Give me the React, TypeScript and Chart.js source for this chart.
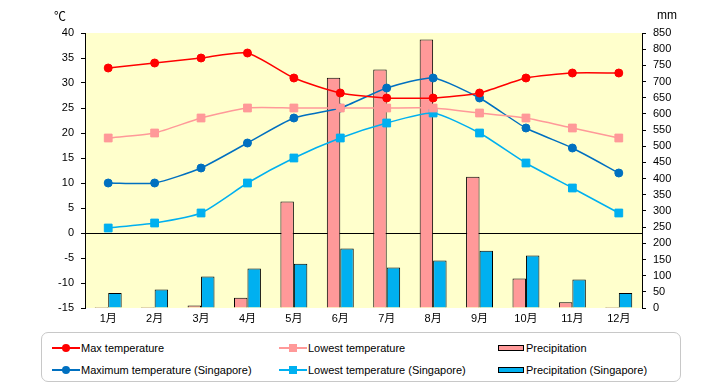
import React, { useEffect, useRef } from "react";
import { Chart, registerables } from "chart.js";

Chart.register(...registerables);

const months = ["1月", "2月", "3月", "4月", "5月", "6月", "7月", "8月", "9月", "10月", "11月", "12月"];
const maxTemp = [33, 34, 35, 36, 31, 28, 27, 27, 28, 31, 32, 32];
const minTemp = [19, 20, 23, 25, 25, 25, 25, 25, 24, 23, 21, 19];
const precip = [3, 3, 8, 32, 329, 712, 737, 830, 406, 91, 18, 3];
const sgMax = [10, 10, 13, 18, 23, 25, 29, 31, 27, 21, 17, 12];
const sgMin = [1, 2, 4, 10, 15, 19, 22, 24, 20, 14, 9, 4];
const sgPrecip = [46, 57, 97, 122, 137, 184, 125, 147, 177, 162, 88, 46];
const tempTicks = { min: -15, max: 40, step: 5 };
const precipTicks = { min: 0, max: 850, step: 50 };

const FONT = '"Liberation Sans", Arial, "Noto Sans CJK JP", sans-serif';

const C_RED = "#FF0000";
const C_PINK = "#FF9999";
const C_DBLUE = "#0070C0";
const C_LBLUE = "#00B0F0";

const bgPlugin = {
  id: "bg",
  beforeDraw(chart: any) {
    const { ctx, chartArea } = chart;
    ctx.save();
    ctx.fillStyle = "#FFFFCC";
    ctx.fillRect(chartArea.left, chartArea.top, chartArea.right - chartArea.left, chartArea.bottom - chartArea.top);
    ctx.restore();
  },
};

function LegendItem(props: { x: number; y: number; kind: string; color: string; label: string }) {
  const { x, y, kind, color, label } = props;
  let marker: any = null;
  if (kind === "bar") {
    marker = (
      <div style={{ position: "absolute", left: 0, top: 5, width: 24, height: 4, background: color, border: "1px solid #000" }} />
    );
  } else {
    marker = (
      <>
        <div style={{ position: "absolute", left: 0, top: 7, width: 28, height: 1.5, background: color }} />
        <div
          style={{
            position: "absolute",
            left: 10,
            top: 4,
            width: 8,
            height: 8,
            borderRadius: kind === "circle" ? "50%" : 0,
            background: color,
          }}
        />
      </>
    );
  }
  return (
    <div style={{ position: "absolute", left: x, top: y, height: 16 }}>
      {marker}
      <span
        style={{
          position: "absolute",
          left: kind === "bar" ? 28 : 29,
          top: 0,
          whiteSpace: "nowrap",
          font: `11px ${FONT}`,
          lineHeight: "16px",
          color: "#000",
        }}
      >
        {label}
      </span>
    </div>
  );
}

export default function App() {
  const ref = useRef<HTMLCanvasElement | null>(null);

  useEffect(() => {
    if (!ref.current) return;
    const lineCommon = {
      type: "line" as const,
      yAxisID: "y",
      borderWidth: 1.5,
      tension: 0.2,
      order: 1,
      pointBorderWidth: 1,
    };
    const chart = new Chart(ref.current, {
      type: "bar",
      data: {
        labels: months,
        datasets: [
          { ...lineCommon, label: "Max temperature", data: maxTemp, borderColor: C_RED, backgroundColor: C_RED, pointStyle: "circle", pointRadius: 4 } as any,
          { ...lineCommon, label: "Lowest temperature", data: minTemp, borderColor: C_PINK, backgroundColor: C_PINK, pointStyle: "rect", pointRadius: 5.5 } as any,
          { ...lineCommon, label: "Maximum temperature (Singapore)", data: sgMax, borderColor: C_DBLUE, backgroundColor: C_DBLUE, pointStyle: "circle", pointRadius: 4 } as any,
          { ...lineCommon, label: "Lowest temperature (Singapore)", data: sgMin, borderColor: C_LBLUE, backgroundColor: C_LBLUE, pointStyle: "rect", pointRadius: 5.5 } as any,
          { type: "bar", label: "Precipitation", data: precip, yAxisID: "y1", backgroundColor: C_PINK, borderColor: "#000", borderWidth: 1, order: 2, categoryPercentage: 0.58, barPercentage: 1 } as any,
          { type: "bar", label: "Precipitation (Singapore)", data: sgPrecip, yAxisID: "y1", backgroundColor: C_LBLUE, borderColor: "#000", borderWidth: 1, order: 2, categoryPercentage: 0.58, barPercentage: 1 } as any,
        ],
      },
      options: {
        responsive: false,
        animation: false,
        maintainAspectRatio: false,
        layout: { padding: { top: 33, left: 0, right: 0, bottom: 0 } },
        plugins: { legend: { display: false }, tooltip: { enabled: false }, title: { display: false } },
        scales: {
          x: {
            type: "category",
            grid: { display: false, drawTicks: false },
            border: { display: false },
            ticks: { color: "#000", font: { family: FONT, size: 11 }, padding: 4, maxRotation: 0 },
            afterFit(scale: any) {
              scale.height = 22;
            },
          },
          y: {
            position: "left",
            min: tempTicks.min,
            max: tempTicks.max,
            z: 1,
            ticks: { stepSize: tempTicks.step, autoSkip: false, color: "#000", font: { family: FONT, size: 11 }, padding: 7 },
            grid: {
              color: (ctx: any) => (ctx.tick && ctx.tick.value === 0 ? "#000" : "rgba(0,0,0,0)"),
              lineWidth: 1,
              tickColor: "#000",
              tickLength: 4,
              drawTicks: true,
            },
            border: { display: true, color: "#000", width: 1 },
            afterFit(scale: any) {
              scale.width = 85;
            },
          },
          y1: {
            position: "right",
            min: precipTicks.min,
            max: precipTicks.max,
            ticks: { stepSize: precipTicks.step, autoSkip: false, color: "#000", font: { family: FONT, size: 11 }, padding: 7 },
            grid: { drawOnChartArea: false, tickColor: "#000", tickLength: 4 },
            border: { display: true, color: "#000", width: 1 },
            afterFit(scale: any) {
              scale.width = 78;
            },
          },
        },
      } as any,
      plugins: [bgPlugin],
    });
    return () => chart.destroy();
  }, []);

  return (
    <div style={{ position: "fixed", left: 0, top: 0, width: 720, height: 385, background: "#fff", overflow: "hidden" }}>
      <canvas ref={ref} width={720} height={330} style={{ position: "absolute", left: 0, top: 0, width: 720, height: 330 }} />
      <div style={{ position: "absolute", left: 54, top: 7, font: `12px ${FONT}`, color: "#000" }}>℃</div>
      <div style={{ position: "absolute", left: 657, top: 8, font: `12px ${FONT}`, color: "#000" }}>mm</div>
      <div
        style={{
          position: "absolute",
          left: 41,
          top: 332,
          width: 640,
          height: 50,
          border: "1.5px solid #C8C8C8",
          borderRadius: 7,
          boxSizing: "border-box",
        }}
      />
      <LegendItem x={52} y={340} kind="circle" color={C_RED} label="Max temperature" />
      <LegendItem x={279} y={340} kind="rect" color={C_PINK} label="Lowest temperature" />
      <LegendItem x={498} y={340} kind="bar" color={C_PINK} label="Precipitation" />
      <LegendItem x={52} y={362} kind="circle" color={C_DBLUE} label="Maximum temperature (Singapore)" />
      <LegendItem x={279} y={362} kind="rect" color={C_LBLUE} label="Lowest temperature (Singapore)" />
      <LegendItem x={498} y={362} kind="bar" color={C_LBLUE} label="Precipitation (Singapore)" />
    </div>
  );
}
